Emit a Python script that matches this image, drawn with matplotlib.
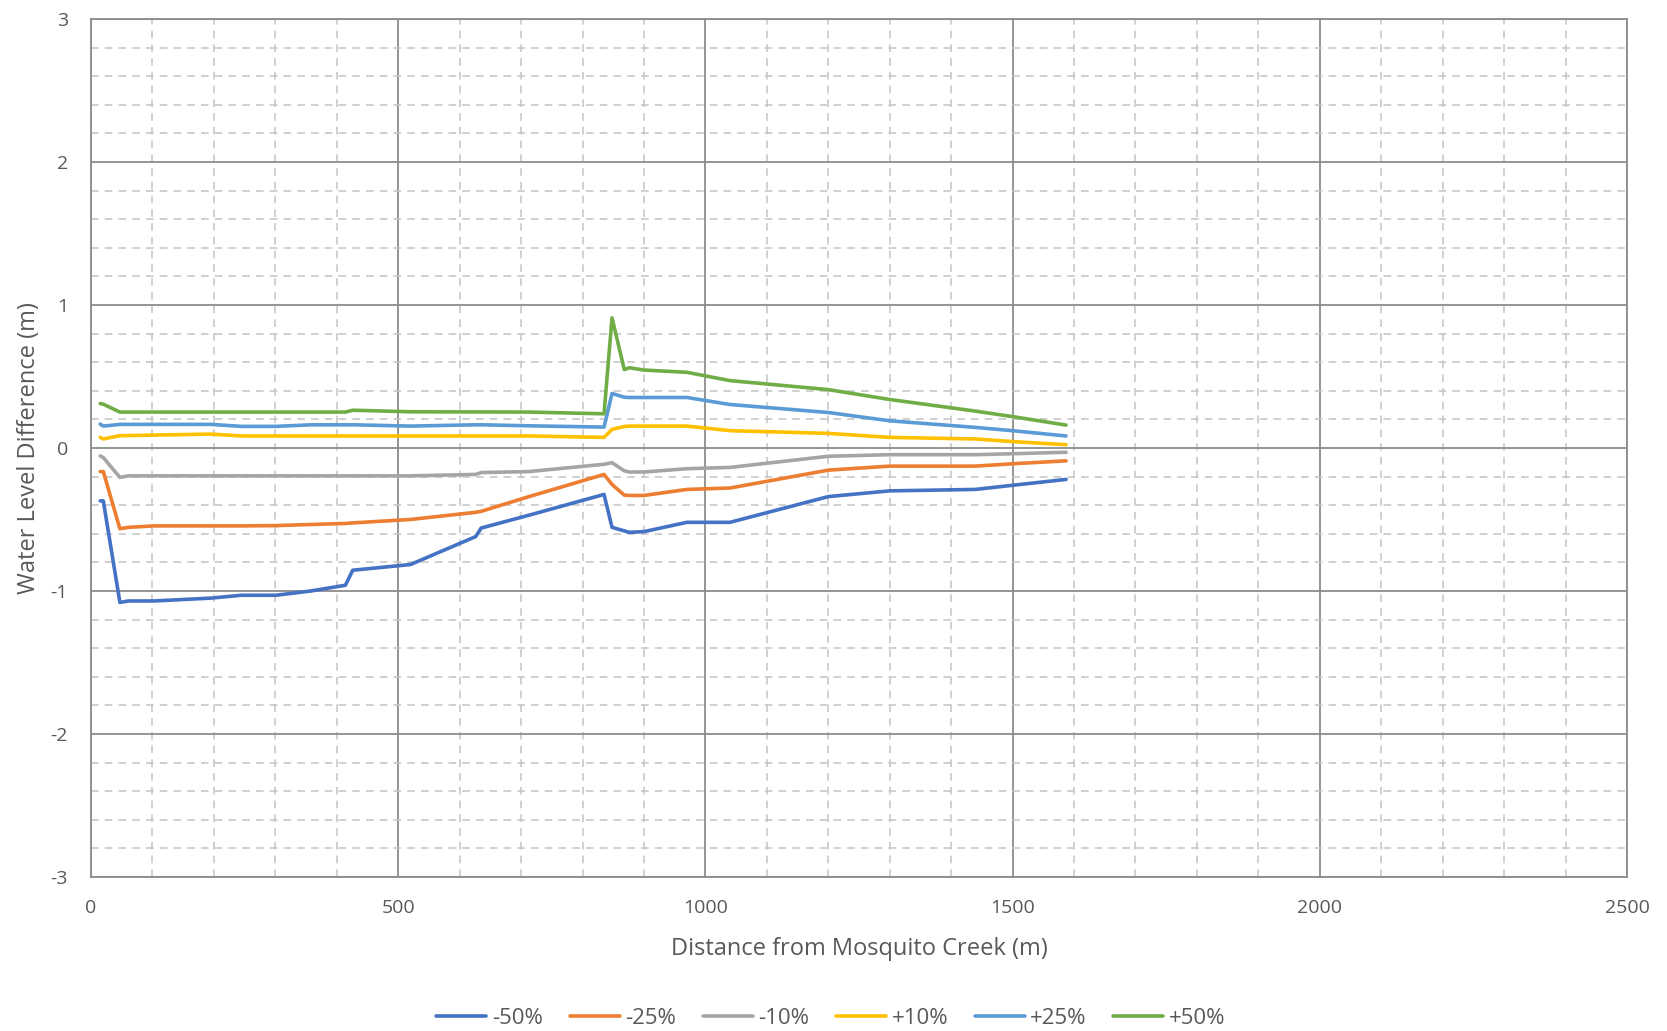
import matplotlib
matplotlib.use('Agg')
import matplotlib.pyplot as plt
from matplotlib.ticker import MultipleLocator

plt.rcParams['font.family'] = ['Open Sans', 'DejaVu Sans']
plt.rcParams['axes.unicode_minus'] = False

# stations along the channel (m)
dist = [15, 20, 47, 61, 102, 195, 245, 301, 358, 414, 426, 520, 626, 635, 713,
        835, 848, 868, 876, 900, 970, 1040, 1200, 1300, 1439, 1502, 1587]

m50 = [-0.37, -0.37, -1.08, -1.07, -1.07, -1.05, -1.03, -1.03, -1.00, -0.96, -0.855,
       -0.815, -0.62, -0.56, -0.47, -0.325, -0.555, -0.58, -0.59, -0.585, -0.52, -0.52,
       -0.34, -0.30, -0.29, -0.26, -0.22]
m25 = [-0.165, -0.165, -0.565, -0.555, -0.545, -0.545, -0.545, -0.543, -0.535, -0.528,
       -0.524, -0.50, -0.45, -0.443, -0.34, -0.185, -0.255, -0.33, -0.332, -0.332, -0.29,
       -0.28, -0.155, -0.127, -0.127, -0.11, -0.09]
m10 = [-0.056, -0.067, -0.206, -0.195, -0.195, -0.195, -0.195, -0.195, -0.195, -0.195,
       -0.195, -0.195, -0.185, -0.172, -0.165, -0.114, -0.103, -0.16, -0.168, -0.168,
       -0.145, -0.136, -0.058, -0.047, -0.047, -0.04, -0.03]
p10 = [0.074, 0.063, 0.086, 0.087, 0.09, 0.097, 0.084, 0.084, 0.084, 0.084, 0.084, 0.084,
       0.084, 0.084, 0.084, 0.074, 0.13, 0.15, 0.153, 0.153, 0.153, 0.121, 0.102, 0.074,
       0.063, 0.044, 0.023]
p25 = [0.167, 0.153, 0.165, 0.165, 0.165, 0.165, 0.151, 0.151, 0.162, 0.162, 0.162, 0.153,
       0.162, 0.162, 0.155, 0.146, 0.381, 0.355, 0.353, 0.353, 0.353, 0.304, 0.248, 0.19,
       0.144, 0.12, 0.084]
p50 = [0.311, 0.306, 0.251, 0.251, 0.251, 0.251, 0.251, 0.251, 0.251, 0.251, 0.264, 0.253,
       0.252, 0.252, 0.251, 0.239, 0.91, 0.548, 0.561, 0.545, 0.529, 0.471, 0.408, 0.339,
       0.258, 0.218, 0.160]

labels = ['-50%', '-25%', '-10%', '+10%', '+25%', '+50%']
colors = ['#4472C4', '#ED7D31', '#A5A5A5', '#FFC000', '#5B9BD5', '#70AD47']

fig = plt.figure(figsize=(16.67, 10.31), dpi=100)
ax = fig.add_axes([0.0546, 0.1494, 0.9214, 0.8322])

for y, lab, c in zip([m50, m25, m10, p10, p25, p50], labels, colors):
    ax.plot(dist, y, color=c, lw=2.6, label=lab, solid_capstyle='round', zorder=3)

ax.set_xlim(0, 2500)
ax.set_ylim(-3, 3)
ax.xaxis.set_major_locator(MultipleLocator(500))
ax.xaxis.set_minor_locator(MultipleLocator(100))
ax.yaxis.set_major_locator(MultipleLocator(1))
ax.yaxis.set_minor_locator(MultipleLocator(0.2))
ax.grid(which='major', color='#8C8C8C', lw=1.3, ls='-')
ax.grid(which='minor', color='#C4C4C4', lw=1.1, ls=(0, (5, 4)))
ax.set_axisbelow(True)
for s in ax.spines.values():
    s.set_color('#8C8C8C')
    s.set_linewidth(1.3)

ax.tick_params(which='both', length=0, labelsize=14, labelcolor='#595959')
ax.tick_params(axis='x', pad=16)
ax.tick_params(axis='y', pad=16.5)

ax.set_xlabel('Distance from Mosquito Creek (m)', fontsize=17, color='#595959', labelpad=14)
ax.set_ylabel('Water Level Difference (m)', fontsize=17, color='#595959', labelpad=7)

fig.legend(loc='center', bbox_to_anchor=(0.4985, 0.012), ncol=6, frameon=False,
           fontsize=16, labelcolor='#595959', handlelength=2.25, handletextpad=0.25,
           columnspacing=1.2)

fig.savefig('out.png', dpi=100)
